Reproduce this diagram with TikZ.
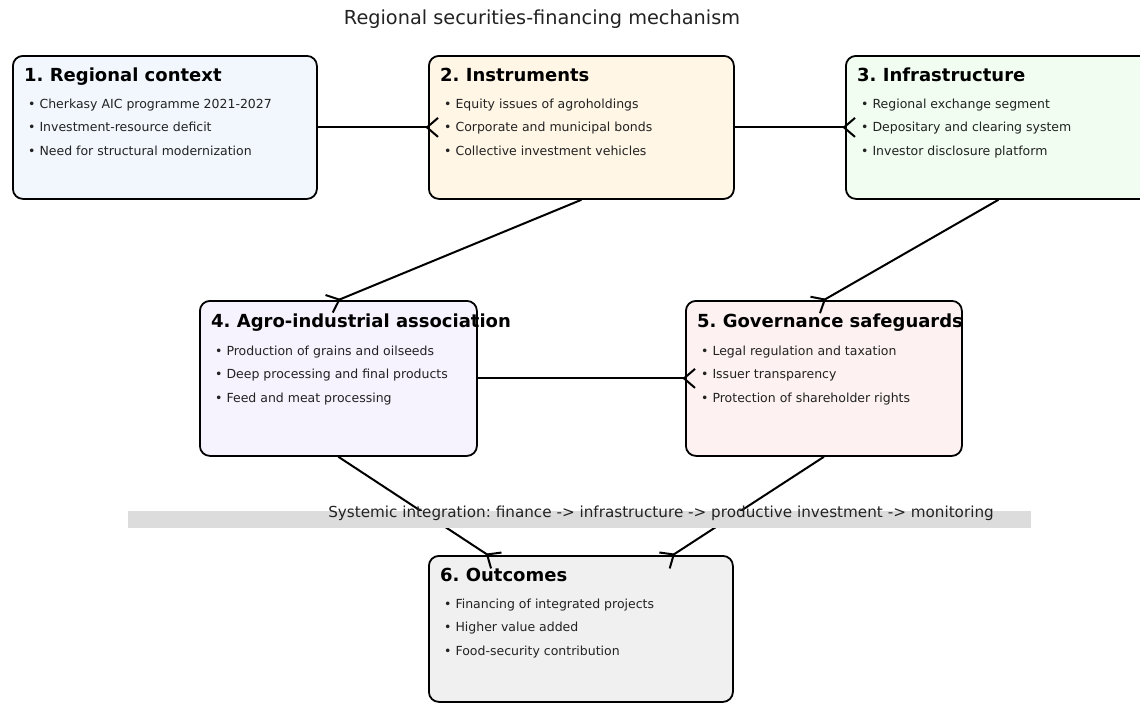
\documentclass[tikz,border=0pt]{standalone}
\usepackage{fontspec}
\setmainfont{DejaVu Sans}
\usetikzlibrary{arrows.meta,calc}
\frenchspacing

\definecolor{ink}{HTML}{222222}
\definecolor{ctxfill}{HTML}{F2F7FE}
\definecolor{instrfill}{HTML}{FFF6E6}
\definecolor{infrafill}{HTML}{F0FDF0}
\definecolor{assocfill}{HTML}{F6F3FE}
\definecolor{govfill}{HTML}{FDF1F1}
\definecolor{outcfill}{HTML}{F0F0F0}
\definecolor{bandgray}{HTML}{DCDCDC}

\tikzset{
  box/.style={draw=black, line width=1.8pt, rounded corners=10pt, anchor=north west, inner sep=0pt},
  head/.style={anchor=base west, inner sep=0pt, font=\bfseries\fontsize{18}{20}\selectfont, text=black},
  item/.style={anchor=base west, inner sep=0pt, font=\fontsize{12.5}{14}\selectfont, text=ink},
  flow/.style={line width=2pt, shorten >=-11pt, -{Straight Barb[reversed, length=11pt, width=19pt, line width=2pt]}}
}

\begin{document}
\begin{tikzpicture}[x=1pt, y=-1pt]
\useasboundingbox (0,0) rectangle (1140,702);
\clip (0,0) rectangle (1140,702);

% Title
\node[font=\fontsize{19.3}{22}\selectfont, text=ink] (title) at (542,19) {Regional securities-financing mechanism};

% Boxes
\node[box, fill=ctxfill, minimum width=304pt, minimum height=143pt] (ctx) at (12,55) {};
\node[box, fill=instrfill, minimum width=305pt, minimum height=143pt] (instr) at (428,55) {};
\node[box, fill=infrafill, minimum width=305pt, minimum height=143pt] (infra) at (845,55) {};
\node[box, fill=assocfill, minimum width=277pt, minimum height=155pt] (assoc) at (199,300) {};
\node[box, fill=govfill, minimum width=276pt, minimum height=155pt] (gov) at (685,300) {};
\node[box, fill=outcfill, minimum width=304pt, minimum height=146pt] (outc) at (428,555) {};

% Box texts
\node[head] (ctx-h) at ($(ctx.north west)+(12,26)$) {1. Regional context};
\foreach \t [count=\i] in {Cherkasy AIC programme 2021-2027, Investment-resource deficit, Need for structural modernization}
  \node[item] (ctx-\i) at ($(ctx.north west)+(16,29.5+23.5*\i)$) {\textbullet\ \t};

\node[head] (instr-h) at ($(instr.north west)+(12,26)$) {2. Instruments};
\foreach \t [count=\i] in {Equity issues of agroholdings, Corporate and municipal bonds, Collective investment vehicles}
  \node[item] (instr-\i) at ($(instr.north west)+(16,29.5+23.5*\i)$) {\textbullet\ \t};

\node[head] (infra-h) at ($(infra.north west)+(12,26)$) {3. Infrastructure};
\foreach \t [count=\i] in {Regional exchange segment, Depositary and clearing system, Investor disclosure platform}
  \node[item] (infra-\i) at ($(infra.north west)+(16,29.5+23.5*\i)$) {\textbullet\ \t};

\node[head] (assoc-h) at ($(assoc.north west)+(12,27)$) {4. Agro-industrial association};
\foreach \t [count=\i] in {Production of grains and oilseeds, Deep processing and final products, Feed and meat processing}
  \node[item] (assoc-\i) at ($(assoc.north west)+(16,31.5+23.5*\i)$) {\textbullet\ \t};

\node[head] (gov-h) at ($(gov.north west)+(12,27)$) {5. Governance safeguards};
\foreach \t [count=\i] in {Legal regulation and taxation, Issuer transparency, Protection of shareholder rights}
  \node[item] (gov-\i) at ($(gov.north west)+(16,31.5+23.5*\i)$) {\textbullet\ \t};

\node[head] (outc-h) at ($(outc.north west)+(12,26)$) {6. Outcomes};
\foreach \t [count=\i] in {Financing of integrated projects, Higher value added, Food-security contribution}
  \node[item] (outc-\i) at ($(outc.north west)+(16,29.5+23.5*\i)$) {\textbullet\ \t};

% Connectors
\coordinate (outc-l) at ($(outc.north)+(-93,0)$);
\coordinate (outc-r) at ($(outc.north)+(92,0)$);
\draw[flow] (ctx.east) -- (instr.west);
\draw[flow] (instr.east) -- (infra.west);
\draw[flow] (instr.south) -- (assoc.north);
\draw[flow] (infra.south) -- (gov.north);
\draw[flow] (assoc.east) -- (gov.west);
\draw[flow] (assoc.south) -- (outc-l);
\draw[flow] (gov.south) -- (outc-r);

% Integration band
\node[fill=bandgray, minimum width=903pt, minimum height=17pt, inner sep=0pt] (band) at (579.5,519.5) {};
\node[font=\fontsize{15.2}{17}\selectfont, text=ink] (band-t) at (661,513) {Systemic integration: finance -> infrastructure -> productive investment -> monitoring};
\end{tikzpicture}
\end{document}
